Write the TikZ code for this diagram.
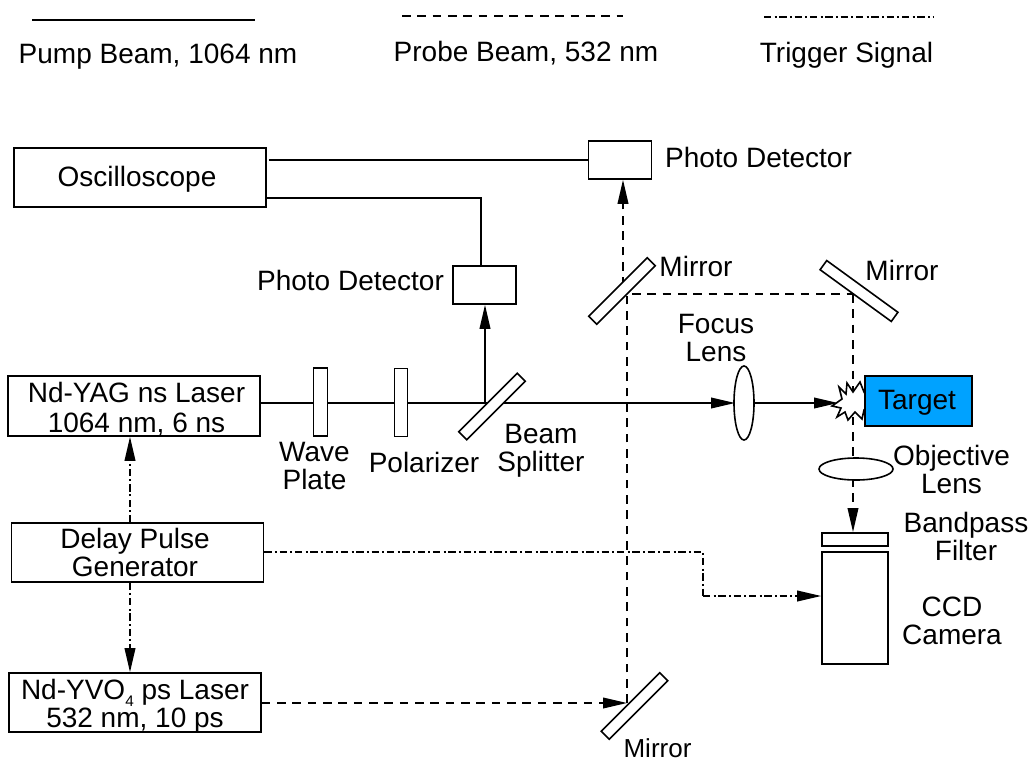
\documentclass[tikz,border=0pt]{standalone}
\usepackage{tikz}
\usepackage{fontspec}
\setmainfont{Liberation Sans}
\usetikzlibrary{arrows.meta,shapes.geometric}
\definecolor{targetblue}{HTML}{00A2FF}
\tikzset{
	lab/.style={font=\fontsize{21}{21}\selectfont,align=center,inner sep=0pt},
	labb/.style={lab,anchor=base},
	box/.style={draw,line width=1.2pt,fill=white,inner sep=0pt},
	mirror/.style={draw,line width=1.2pt,fill=white,inner sep=0pt,minimum height=8.5pt},
	lens/.style={ellipse,draw,line width=1.2pt,fill=white,inner sep=0pt},
	pump/.style={line width=1.2pt},
	probe/.style={line width=1.2pt,dash pattern=on 6.5pt off 5pt},
	trigger/.style={line width=1.2pt,dash pattern=on 5.5pt off 2.5pt on 1.5pt off 2pt}
}
\begin{document}
\begin{tikzpicture}[x=0.75pt,y=-0.75pt,>={Triangle[length=18pt,width=8pt]}]
		\useasboundingbox (0,0) rectangle (1032,761);
		%Legend
		\coordinate (pumpA) at (32,20);
		\coordinate (pumpB) at (255,20);
		\coordinate (probeA) at (402,16);
		\coordinate (probeB) at (623,16);
		\coordinate (trigA) at (764,17);
		\coordinate (trigB) at (934,17);
		\draw[pump] (pumpA) -- (pumpB);
		\draw[probe] (probeA) -- (probeB);
		\draw[trigger] (trigA) -- (trigB);
		\node[labb] (legpump) at (158,63) {Pump Beam, 1064 nm};
		\node[labb] (legprobe) at (526,61) {Probe Beam, 532 nm};
		\node[labb] (legtrig) at (846.5,62) {Trigger Signal};
		%Points on the beams
		\coordinate (split) at (485,403);
		\coordinate (mirAup) at (623,286);
		\coordinate (mirAdn) at (627,294);
		\coordinate (mirB) at (853,294);
		\coordinate (mirC) at (627,703);
		\coordinate (trigC) at (703,552);
		\coordinate (trigD) at (703,596);
		%Boxes
		\node[box,minimum width=189pt,minimum height=44pt] (scope) at (140,177.5) {};
		\node[box,minimum width=47.5pt,minimum height=28.5pt] (detA) at (620,160) {};
		\node[box,minimum width=47.25pt,minimum height=28.5pt] (detB) at (484.5,285) {};
		\node[box,minimum width=189pt,minimum height=45pt] (yag) at (134,406) {};
		\node[box,minimum width=189pt,minimum height=44.25pt] (delay) at (137.5,552.5) {};
		\node[box,minimum width=189pt,minimum height=44.25pt] (yvo) at (135,702.5) {};
		\node[box,minimum width=49.5pt,minimum height=10pt] (filter) at (855,539.5) {};
		\node[box,minimum width=49.5pt,minimum height=84pt] (ccd) at (855,608) {};
		%Probe
		\draw[probe,->] (yvo.east |- mirC) -- (mirC);
		\draw[probe] (mirC) -- (mirAdn) -- (mirB);
		\draw[probe,->] (mirB) -- (filter.north -| mirB);
		\draw[probe,->] (mirAup) -- (detA.south -| mirAup);
		%Spark on the target
		\draw[line width=1.2pt,fill=white] (832,406) -- (842,399) -- (839,387) -- (846,394) -- (847,383) -- (853,392) -- (860,382) -- (864,392) -- (870,402) -- (864,410) -- (862,419) -- (855,412) -- (848,420) -- (845,412) -- (837,417) -- (841,408) -- cycle;
		%Pump
		\draw[pump] ([xshift=1.5pt]scope.east |- detA) -- (detA.west);
		\draw[pump] (scope.east |- 0,198) -| ([xshift=-2.5pt]detB.north);
		\draw[pump] (yag.east |- split) -- (split);
		\draw[pump,->] (split) -- (detB.south -| split);
		\draw[pump,->] (split) -- (735,403);
		\draw[pump,->] (755,403) -- (838,403);
		%Trigger
		\draw[trigger,->] (delay.north -| 130,0) -- (yag.south -| 130,0);
		\draw[trigger,->] (delay.south -| 130,0) -- (yvo.north -| 130,0);
		\draw[trigger] (delay.east |- trigC) -- (trigC) -- (trigD);
		\draw[trigger,->] (trigD) -- (ccd.west |- trigD);
		%Optics
		\node[mirror,rotate=90,minimum width=51pt,minimum height=10.5pt] (wave) at (320.5,402) {};
		\node[mirror,rotate=90,minimum width=51pt,minimum height=10pt] (pol) at (401,402.5) {};
		\node[mirror,rotate=45,minimum width=62pt] (bs) at (492,406.5) {};
		\node[mirror,rotate=45,minimum width=62pt] (mA) at (622,291) {};
		\node[mirror,rotate=-36,minimum width=66pt] (mB) at (859,291) {};
		\node[mirror,rotate=45,minimum width=62pt] (mC) at (634.5,706) {};
		\node[lens,minimum width=15pt,minimum height=55.5pt] (focus) at (744,403) {};
		\node[lens,minimum width=55.5pt,minimum height=16.5pt] (obj) at (856,469) {};
		\node[box,fill=targetblue,minimum width=80pt,minimum height=37.5pt] (target) at (918.5,401) {};
		%Labels
		\node[lab] (lbscope) at (137,179) {Oscilloscope};
		\node[lab,font=\fontsize{21}{22.5}\selectfont] (lbyag) at (136.5,409) {Nd-YAG ns Laser\\1064 nm, 6 ns};
		\node[lab] (lbdelay) at (135,552) {Delay Pulse\\Generator};
		\node[lab] (lbyvo) at (135,706) {Nd-YVO\smash{\raisebox{-5.5pt}{\fontsize{11.5}{11.5}\selectfont 4}} ps Laser\\532 nm, 10 ps};
		\node[labb] (lbtarget) at (917,409) {Target};
		\node[labb] (lbdetA) at (758.5,167) {Photo Detector};
		\node[labb] (lbdetB) at (350.5,290) {Photo Detector};
		\node[lab] (lbwave) at (314.5,466) {Wave\\Plate};
		\node[labb] (lbpol) at (424,472) {Polarizer};
		\node[lab] (lbbs) at (541,451) {Beam\\Splitter};
		\node[lab] (lbfocus) at (716,338) {Focus\\Lens};
		\node[labb] (lbmA) at (696,276) {Mirror};
		\node[labb] (lbmB) at (902,280) {Mirror};
		\node[labb,font=\fontsize{19.5}{19.5}\selectfont] (lbmC) at (657.5,757) {Mirror};
		\node[lab] (lbobj) at (951.5,469) {Objective\\Lens};
		\node[lab] (lbfilter) at (966,536) {Bandpass\\Filter};
		\node[lab] (lbccd) at (952,621) {CCD\\Camera};
		\end{tikzpicture}
\end{document}
